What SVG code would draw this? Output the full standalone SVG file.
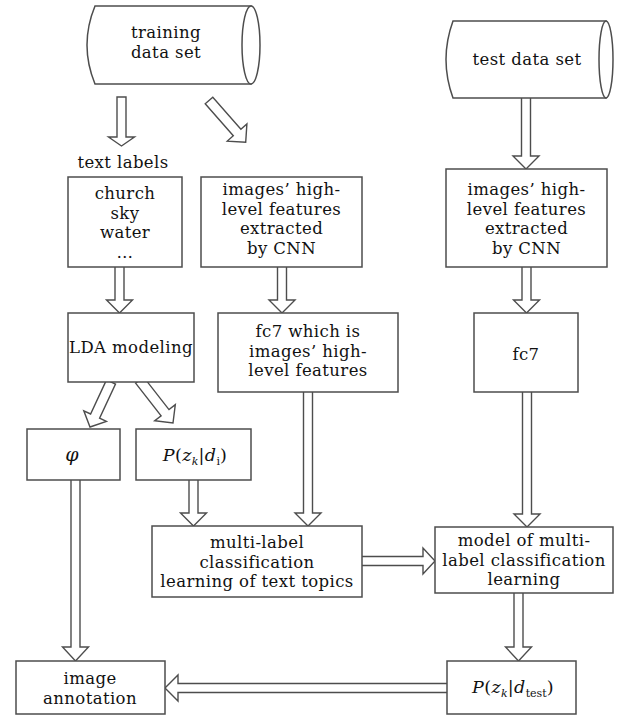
<svg xmlns="http://www.w3.org/2000/svg" width="624" height="717" viewBox="0 0 624 717">
<style>
  .bx { fill: #ffffff; stroke: #4d4d4d; stroke-width: 1.5; }
  .ar { fill: #ffffff; stroke: #4d4d4d; stroke-width: 1.4; stroke-linejoin: miter; }
  text { font-family: "DejaVu Serif", "Liberation Serif", serif; font-size: 16.5px; letter-spacing: 0.4px; fill: #111111; text-anchor: middle; }
  .it { font-style: italic; }
  .mt { font-size: 17.5px; }
  .sb { font-size: 11px; letter-spacing: 0; }
</style>
<rect width="624" height="717" fill="#ffffff"/>
<g id="connectors">
  <polygon class="ar" points="117,97 117,137 108.5,137 121.5,146 134.5,137 126,137 126,97"/>
  <polygon class="ar" points="205.2,103.8 233.3,135.8 227.3,141.1 245.7,142.3 246.9,123.9 240.9,129.2 212.8,97.2"/>
  <polygon class="ar" points="115,266 115,300 106.5,300 119.5,313 132.5,300 124,300 124,266"/>
  <polygon class="ar" points="277.5,266 277.5,300 269,300 282,313 295,300 286.5,300 286.5,266"/>
  <polygon class="ar" points="521.5,97 521.5,156 513,156 526,169 539,156 530.5,156 530.5,97"/>
  <polygon class="ar" points="522,266 522,300 513.5,300 526.5,313 539.5,300 531,300 531,266"/>
  <polygon class="ar" points="106.5,379.9 90.6,414 83.8,410.8 90,427 106.4,421.4 99.6,418.2 115.5,384.1"/>
  <polygon class="ar" points="135.6,383.1 161.1,415.8 154.7,420.7 173,423 175.3,404.7 169,409.6 143.5,376.9"/>
  <polygon class="ar" points="71,479 71,647 62.5,647 75.5,661 88.5,647 80,647 80,479"/>
  <polygon class="ar" points="189,479 189,513 180.5,513 193.5,526 206.5,513 198,513 198,479"/>
  <polygon class="ar" points="303.5,391 303.5,513 295,513 308,526 321,513 312.5,513 312.5,391"/>
  <polygon class="ar" points="522.5,391 522.5,514 514,514 527,527 540,514 531.5,514 531.5,391"/>
  <polygon class="ar" points="361,556.5 423,556.5 423,548 435,561 423,574 423,565.5 361,565.5"/>
  <polygon class="ar" points="514,592 514,647 505.5,647 518.5,661 531.5,647 523,647 523,592"/>
  <polygon class="ar" points="448,683.5 178,683.5 178,675 165,688 178,701 178,692.5 448,692.5"/>
</g>
<g id="training-data-set">
  <path class="bx" d="M95,6 L251,6 L251,84 L95,84 Q79,45 95,6 Z"/>
  <ellipse class="bx" cx="251" cy="45" rx="9" ry="39"/>
  <text x="166" y="38">training</text>
  <text x="166" y="58">data set</text>
</g>
<g id="test-data-set">
  <path class="bx" d="M453,21 L606,21 L606,98 L453,98 Q439,59.5 453,21 Z"/>
  <ellipse class="bx" cx="606" cy="59.5" rx="7" ry="38.5"/>
  <text x="527" y="65">test data set</text>
</g>
<g id="text-labels-caption">
  <text x="123" y="168">text labels</text>
</g>
<g id="text-labels">
  <rect class="bx" x="68" y="177" width="114" height="90"/>
  <text x="125" y="199">church</text>
  <text x="125" y="218.5">sky</text>
  <text x="125" y="238">water</text>
  <text x="125" y="257.5">…</text>
</g>
<g id="train-features">
  <rect class="bx" x="201" y="177" width="161" height="90"/>
  <text x="281.5" y="195">images’ high-</text>
  <text x="281.5" y="214.5">level features</text>
  <text x="281.5" y="234">extracted</text>
  <text x="281.5" y="253.5">by CNN</text>
</g>
<g id="test-features">
  <rect class="bx" x="446" y="169" width="161" height="98"/>
  <text x="526.5" y="195">images’ high-</text>
  <text x="526.5" y="214.5">level features</text>
  <text x="526.5" y="234">extracted</text>
  <text x="526.5" y="253.5">by CNN</text>
</g>
<g id="lda">
  <rect class="bx" x="68" y="313" width="126" height="69"/>
  <text x="131" y="353">LDA modeling</text>
</g>
<g id="fc7-train">
  <rect class="bx" x="218" y="313" width="180" height="79"/>
  <text x="308" y="337">fc7 which is</text>
  <text x="308" y="356.5">images’ high-</text>
  <text x="308" y="376">level features</text>
</g>
<g id="fc7-test">
  <rect class="bx" x="474" y="313" width="104" height="79"/>
  <text x="526" y="360">fc7</text>
</g>
<g id="phi">
  <rect class="bx" x="27" y="429" width="93" height="51"/>
  <text x="72" y="461" class="it" style="font-size:19px">φ</text>
</g>
<g id="p-zk-di">
  <rect class="bx" x="136" y="429" width="115" height="51"/>
  <text x="195" y="461" class="mt"><tspan class="it">P</tspan>(<tspan class="it">z</tspan><tspan class="it sb" dy="4">k</tspan><tspan dy="-4">|</tspan><tspan class="it">d</tspan><tspan class="sb" dy="4">i</tspan><tspan dy="-4">)</tspan></text>
</g>
<g id="multi-label-learning">
  <rect class="bx" x="152" y="526" width="210" height="71"/>
  <text x="257" y="548">multi-label</text>
  <text x="257" y="567.5">classification</text>
  <text x="257" y="587">learning of text topics</text>
</g>
<g id="model">
  <rect class="bx" x="435" y="527" width="178" height="66"/>
  <text x="524" y="546">model of multi-</text>
  <text x="524" y="565.5">label classification</text>
  <text x="524" y="585">learning</text>
</g>
<g id="image-annotation">
  <rect class="bx" x="16" y="661" width="149" height="53"/>
  <text x="90" y="684">image</text>
  <text x="90" y="703.5">annotation</text>
</g>
<g id="p-zk-dtest">
  <rect class="bx" x="447" y="661" width="129" height="53"/>
  <text x="513" y="693" class="mt"><tspan class="it">P</tspan>(<tspan class="it">z</tspan><tspan class="it sb" dy="4">k</tspan><tspan dy="-4">|</tspan><tspan class="it">d</tspan><tspan class="sb" dy="4">test</tspan><tspan dy="-4">)</tspan></text>
</g>
</svg>
